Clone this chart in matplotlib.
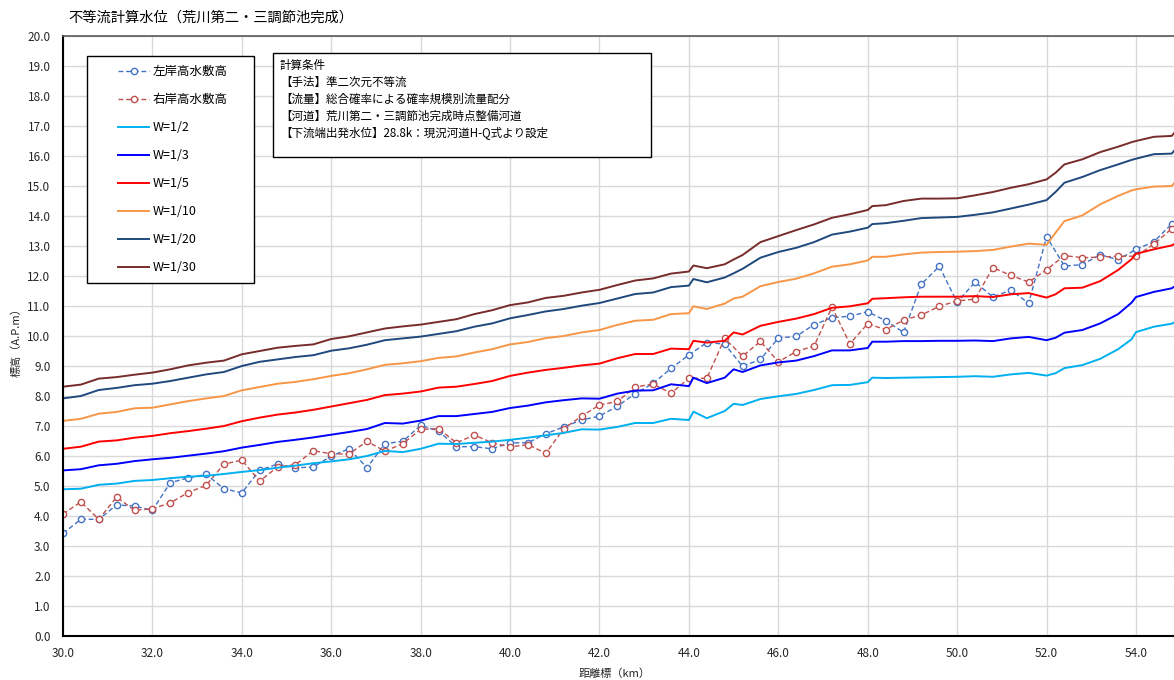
import numpy as np
import matplotlib
matplotlib.use('Agg')
import matplotlib.pyplot as plt
from matplotlib.patches import Rectangle

plt.rcParams['font.family'] = ['Noto Sans CJK JP', 'DejaVu Sans']

# 高水敷高（0.4km ピッチ）
km_bank = [30.0, 30.4, 30.8, 31.2, 31.6, 32.0, 32.4, 32.8, 33.2, 33.6,
           34.0, 34.4, 34.8, 35.2, 35.6, 36.0, 36.4, 36.8, 37.2, 37.6,
           38.0, 38.4, 38.8, 39.2, 39.6, 40.0, 40.4, 40.8, 41.2, 41.6,
           42.0, 42.4, 42.8, 43.2, 43.6, 44.0, 44.4, 44.8, 45.2, 45.6,
           46.0, 46.4, 46.8, 47.2, 47.6, 48.0, 48.4, 48.8, 49.2, 49.6,
           50.0, 50.4, 50.8, 51.2, 51.6, 52.0, 52.4, 52.8, 53.2, 53.6,
           54.0, 54.4, 54.8]
left_bank = [3.42, 3.89, 3.89, 4.37, 4.33, 4.19, 5.11, 5.27, 5.39, 4.91,
             4.77, 5.53, 5.73, 5.61, 5.63, 6.00, 6.24, 5.61, 6.41, 6.49,
             7.02, 6.83, 6.31, 6.31, 6.24, 6.44, 6.44, 6.74, 6.97, 7.20,
             7.33, 7.66, 8.08, 8.42, 8.92, 9.37, 9.78, 9.73, 8.99, 9.22,
             9.93, 9.99, 10.38, 10.61, 10.66, 10.81, 10.51, 10.12, 11.73, 12.32,
             11.12, 11.80, 11.30, 11.53, 11.09, 13.31, 12.33, 12.38, 12.71, 12.54,
             12.89, 13.14, 13.74]
right_bank = [4.07, 4.47, 3.89, 4.63, 4.19, 4.24, 4.44, 4.78, 5.02, 5.73,
              5.86, 5.16, 5.64, 5.71, 6.18, 6.07, 6.07, 6.49, 6.16, 6.41,
              6.89, 6.91, 6.44, 6.70, 6.44, 6.30, 6.38, 6.09, 6.91, 7.33,
              7.70, 7.82, 8.30, 8.40, 8.09, 8.59, 8.59, 9.92, 9.33, 9.82,
              9.14, 9.48, 9.67, 10.96, 9.74, 10.41, 10.21, 10.53, 10.70, 10.99,
              11.17, 11.23, 12.28, 12.02, 11.80, 12.21, 12.68, 12.61, 12.63, 12.66,
              12.66, 13.06, 13.58]

# 計算水位
km_w = [30.0, 30.4, 30.8, 31.2, 31.6, 32.0, 32.4, 32.8, 33.2, 33.6,
        34.0, 34.4, 34.8, 35.2, 35.6, 36.0, 36.4, 36.8, 37.2, 37.6,
        38.0, 38.4, 38.8, 39.2, 39.6, 40.0, 40.4, 40.8, 41.2, 41.6,
        42.0, 42.4, 42.8, 43.2, 43.6, 44.0, 44.1, 44.4, 44.8, 45.0,
        45.2, 45.6, 46.0, 46.4, 46.8, 47.2, 47.6, 48.0, 48.1, 48.4,
        48.8, 49.2, 49.6, 50.0, 50.4, 50.8, 51.2, 51.6, 52.0, 52.2,
        52.4, 52.8, 53.2, 53.6, 53.9, 54.0, 54.4, 54.8, 54.85]
w2 = [4.89, 4.91, 5.04, 5.08, 5.17, 5.20, 5.26, 5.31, 5.34, 5.40,
      5.47, 5.53, 5.61, 5.68, 5.76, 5.82, 5.89, 6.00, 6.17, 6.13,
      6.24, 6.41, 6.40, 6.44, 6.48, 6.54, 6.61, 6.69, 6.77, 6.89,
      6.88, 6.97, 7.10, 7.10, 7.24, 7.20, 7.48, 7.26, 7.50, 7.74,
      7.70, 7.90, 7.99, 8.07, 8.20, 8.36, 8.37, 8.46, 8.61, 8.60,
      8.61, 8.62, 8.63, 8.64, 8.66, 8.64, 8.72, 8.77, 8.68, 8.76,
      8.93, 9.03, 9.24, 9.56, 9.89, 10.13, 10.31, 10.41, 10.45]
w3 = [5.52, 5.56, 5.69, 5.74, 5.83, 5.89, 5.94, 6.01, 6.08, 6.16,
      6.28, 6.37, 6.47, 6.54, 6.62, 6.71, 6.80, 6.90, 7.10, 7.08,
      7.18, 7.33, 7.33, 7.40, 7.47, 7.60, 7.68, 7.79, 7.86, 7.92,
      7.91, 8.08, 8.18, 8.19, 8.39, 8.33, 8.61, 8.43, 8.61, 8.89,
      8.80, 9.02, 9.12, 9.18, 9.33, 9.52, 9.52, 9.60, 9.81, 9.81,
      9.83, 9.83, 9.84, 9.84, 9.85, 9.83, 9.92, 9.97, 9.86, 9.94,
      10.11, 10.20, 10.42, 10.73, 11.11, 11.30, 11.47, 11.59, 11.64]
w5 = [6.24, 6.31, 6.48, 6.52, 6.61, 6.67, 6.76, 6.83, 6.91, 7.00,
      7.16, 7.28, 7.38, 7.45, 7.54, 7.65, 7.76, 7.87, 8.03, 8.08,
      8.15, 8.28, 8.31, 8.40, 8.50, 8.67, 8.78, 8.87, 8.94, 9.02,
      9.08, 9.26, 9.40, 9.40, 9.58, 9.56, 9.84, 9.78, 9.84, 10.12,
      10.05, 10.34, 10.47, 10.58, 10.73, 10.94, 10.99, 11.09, 11.24, 11.26,
      11.29, 11.31, 11.31, 11.31, 11.33, 11.30, 11.39, 11.43, 11.28, 11.39,
      11.59, 11.61, 11.83, 12.20, 12.56, 12.74, 12.89, 13.02, 13.06]
w10 = [7.17, 7.24, 7.41, 7.47, 7.59, 7.61, 7.72, 7.83, 7.92, 8.00,
       8.19, 8.30, 8.41, 8.47, 8.56, 8.67, 8.76, 8.89, 9.04, 9.09,
       9.16, 9.27, 9.32, 9.45, 9.56, 9.72, 9.80, 9.93, 10.00, 10.12,
       10.20, 10.37, 10.51, 10.54, 10.73, 10.76, 10.99, 10.90, 11.08, 11.25,
       11.31, 11.66, 11.80, 11.91, 12.09, 12.31, 12.39, 12.52, 12.64, 12.64,
       12.72, 12.78, 12.80, 12.81, 12.83, 12.87, 12.98, 13.08, 13.04, 13.44,
       13.83, 14.02, 14.39, 14.67, 14.85, 14.89, 14.98, 15.00, 15.09]
w20 = [7.92, 8.00, 8.20, 8.27, 8.36, 8.41, 8.50, 8.61, 8.72, 8.80,
       9.00, 9.14, 9.22, 9.30, 9.36, 9.51, 9.59, 9.71, 9.86, 9.92,
       9.98, 10.07, 10.16, 10.31, 10.42, 10.59, 10.70, 10.82, 10.90, 11.01,
       11.10, 11.25, 11.40, 11.45, 11.63, 11.68, 11.90, 11.79, 11.95, 12.09,
       12.24, 12.61, 12.80, 12.94, 13.13, 13.38, 13.48, 13.61, 13.73, 13.76,
       13.84, 13.93, 13.95, 13.97, 14.04, 14.12, 14.25, 14.38, 14.53, 14.80,
       15.11, 15.30, 15.53, 15.72, 15.87, 15.91, 16.06, 16.08, 16.17]
w30 = [8.31, 8.38, 8.58, 8.63, 8.71, 8.78, 8.89, 9.02, 9.11, 9.18,
       9.39, 9.50, 9.61, 9.67, 9.72, 9.90, 9.99, 10.12, 10.25, 10.32,
       10.38, 10.47, 10.56, 10.73, 10.86, 11.03, 11.12, 11.27, 11.34, 11.45,
       11.54, 11.70, 11.85, 11.92, 12.08, 12.15, 12.35, 12.26, 12.39, 12.55,
       12.70, 13.13, 13.33, 13.53, 13.72, 13.94, 14.06, 14.20, 14.33, 14.36,
       14.50, 14.58, 14.58, 14.59, 14.69, 14.80, 14.94, 15.06, 15.22, 15.44,
       15.72, 15.89, 16.13, 16.31, 16.46, 16.50, 16.64, 16.67, 16.76]

w_series = [('W=1/2', w2, '#00B0F0'),
            ('W=1/3', w3, '#0000FF'),
            ('W=1/5', w5, '#FF0000'),
            ('W=1/10', w10, '#F79646'),
            ('W=1/20', w20, '#1F497D'),
            ('W=1/30', w30, '#772C2A')]

cond_lines = ['計算条件',
              '【手法】準二次元不等流',
              '【流量】総合確率による確率規模別流量配分',
              '【河道】荒川第二・三調節池完成時点整備河道',
              '【下流端出発水位】28.8k：現況河道H-Q式より設定']

W, H = 1174, 680
fig = plt.figure(figsize=(W / 100, H / 100), dpi=100)
ax = fig.add_axes([63 / W, 1 - 636 / H, (W - 63) / W, 600 / H])

dash = (0, (3.5, 2.0))
ax.plot(km_bank, left_bank, linestyle=dash, color='#4472C4', lw=1.0,
        marker='o', ms=4.5, mfc='white', mec='#4472C4', mew=1.0, label='左岸高水敷高')
ax.plot(km_bank, right_bank, linestyle=dash, color='#C0504D', lw=1.0,
        marker='o', ms=4.5, mfc='white', mec='#C0504D', mew=1.0, label='右岸高水敷高')
for name, vals, col in w_series:
    ax.plot(km_w, vals, color=col, lw=1.4, label=name)

ax.set_xlim(30, 54.85)
ax.set_ylim(0, 20)
ax.set_xticks(np.arange(30, 55, 2.0))
ax.set_yticks(np.arange(0, 20.5, 1.0))
ax.xaxis.set_major_formatter(matplotlib.ticker.FormatStrFormatter('%.1f'))
ax.yaxis.set_major_formatter(matplotlib.ticker.FormatStrFormatter('%.1f'))
ax.tick_params(length=0, labelsize=8.5, colors='#262626')
ax.tick_params(axis='y', pad=9)
ax.tick_params(axis='x', pad=8)
ax.grid(True, color='#D9D9D9', lw=1.0)
ax.set_axisbelow(True)
for s in ['left', 'bottom']:
    ax.spines[s].set_color('#000000')
    ax.spines[s].set_linewidth(1.5)
ax.spines['top'].set_color('#595959')
ax.spines['top'].set_linewidth(1.2)
ax.spines['right'].set_visible(False)

# 凡例の枠
ax.add_patch(Rectangle((87 / W, 1 - 283 / H), 167 / W, 227 / H, transform=fig.transFigure,
                       facecolor='white', edgecolor='#000000', lw=1.0, zorder=5,
                       clip_on=False))
leg = ax.legend(loc='upper left', bbox_to_anchor=((118 - 63) / 1111, (636 - 65) / 600),
                borderaxespad=0, fontsize=9, frameon=False, labelspacing=1.2,
                handlelength=2.5, handletextpad=0.3, borderpad=0.0)
leg.set_zorder(6)

# 計算条件の枠
ax.add_patch(Rectangle((273 / W, 1 - 157 / H), 378 / W, 104 / H, transform=fig.transFigure,
                       facecolor='white', edgecolor='#000000', lw=1.0, zorder=5,
                       clip_on=False))
for i, line in enumerate(cond_lines):
    ax.text(280 / W, 1 - (65.5 + i * 16.9) / H, line, fontsize=8.3, va='center',
            ha='left', color='#000000', zorder=6, transform=fig.transFigure)

fig.text(68 / W, 1 - 18 / H, '不等流計算水位（荒川第二・三調節池完成）', fontsize=10.3,
         va='center', ha='left', color='#000000')
fig.text(16 / W, 1 - 340 / H, '標高（A.P.m）', fontsize=8, rotation=90,
         va='center', ha='center', color='#262626')
fig.text(615 / W, 1 - 674 / H, '距離標（km）', fontsize=8, va='center',
         ha='center', color='#262626')

fig.savefig('out.png', dpi=100)
